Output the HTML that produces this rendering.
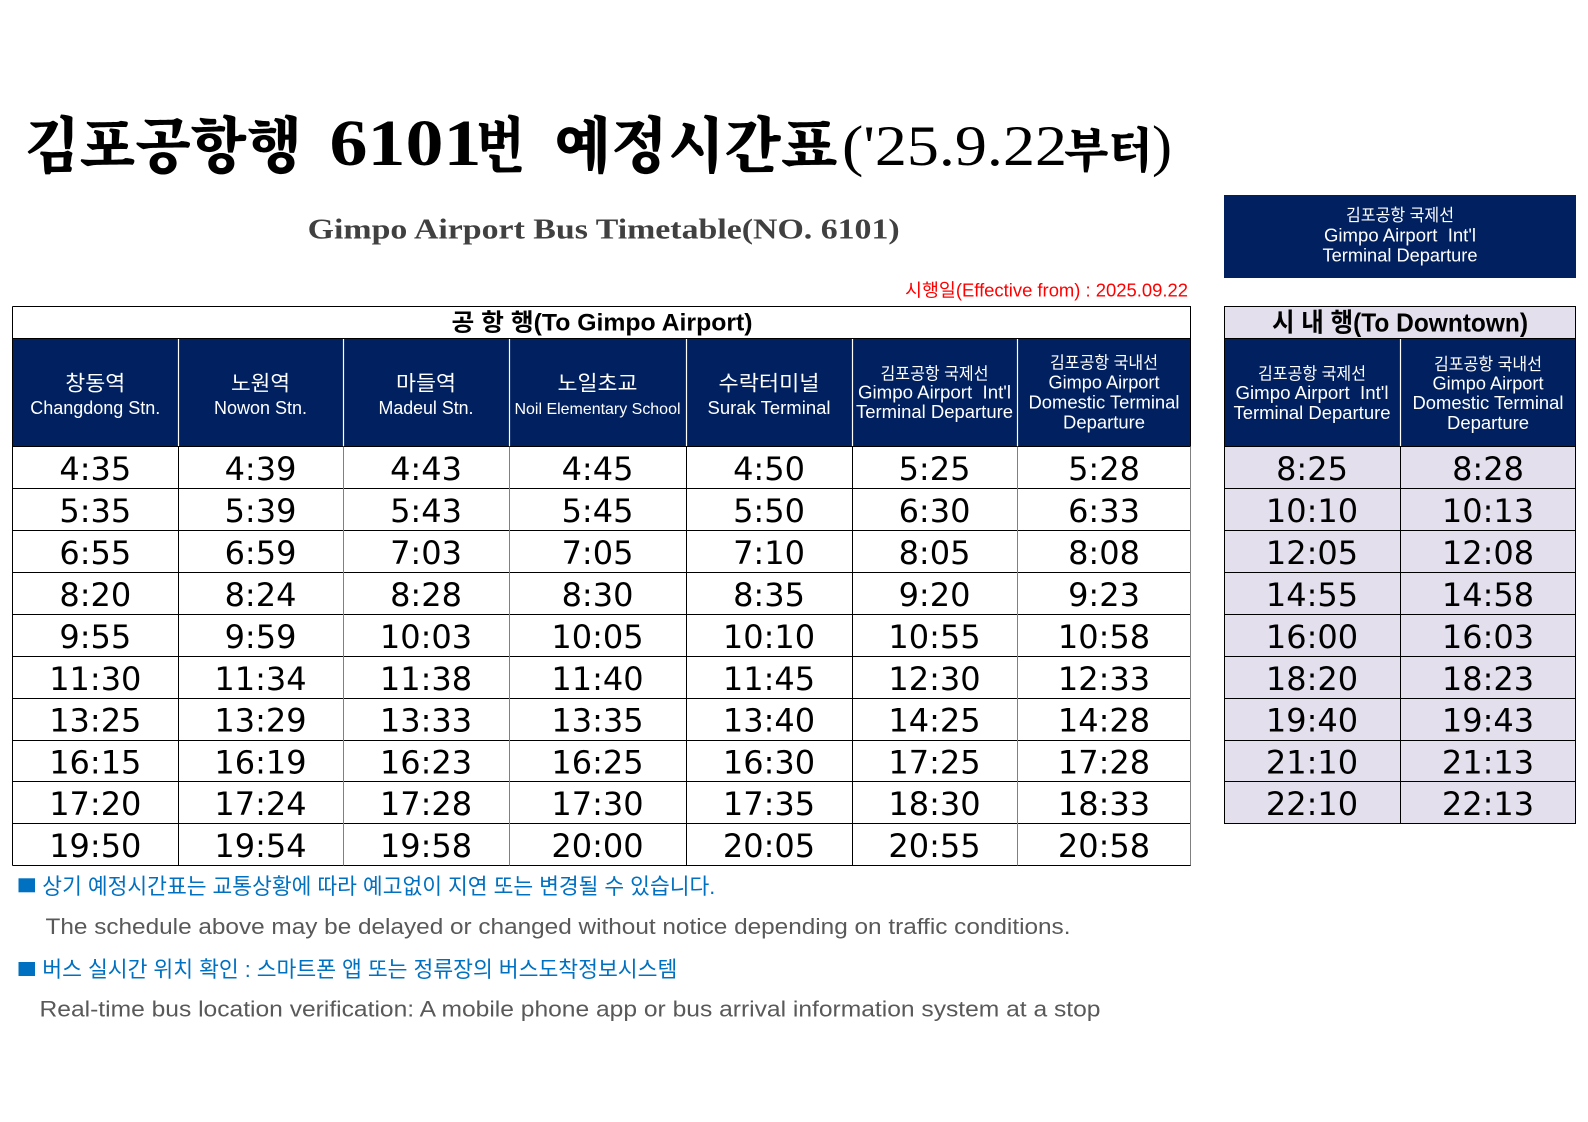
<!DOCTYPE html>
<html lang="ko">
<head>
<meta charset="utf-8">
<style>
html,body{margin:0;padding:0;background:#fff;}
svg{display:block;}
text{white-space:pre;}
.ser{font-family:"Noto Serif CJK KR","Noto Serif CJK SC","Noto Sans CJK KR",serif;font-weight:900;}
.lser{font-family:"Liberation Serif",serif;}
.k{font-family:"Liberation Sans","Noto Sans CJK KR",sans-serif;}
.t{font-family:"DejaVu Sans","Liberation Sans",sans-serif;font-size:32px;text-anchor:middle;fill:#000;}
.hw{fill:#fff;text-anchor:middle;}
.kr21{font-size:21px;}
.en18{font-size:18px;}
.kr17{font-size:17px;}
</style>
</head>
<body>
<svg width="1588" height="1122" viewBox="0 0 1588 1122" xmlns="http://www.w3.org/2000/svg">
<rect x="0" y="0" width="1588" height="1122" fill="#fff"/>

<!-- Main title -->
<text class="ser" x="24" y="167" font-size="61" textLength="278" lengthAdjust="spacingAndGlyphs">김포공항행</text>
<text class="lser" x="329.5" y="165" font-size="66" font-weight="bold" textLength="152" lengthAdjust="spacingAndGlyphs">6101</text>
<text class="ser" x="476" y="167" font-size="61" textLength="49" lengthAdjust="spacingAndGlyphs">번</text>
<text class="ser" x="554.5" y="167" font-size="61" textLength="283" lengthAdjust="spacingAndGlyphs">예정시간표</text>
<text class="lser" x="842" y="165" font-size="57" textLength="225" lengthAdjust="spacingAndGlyphs">('25.9.22</text>
<text class="ser" x="1064" y="167" font-size="48" textLength="89" lengthAdjust="spacingAndGlyphs">부터</text>
<text class="lser" x="1152" y="165" font-size="57" textLength="20" lengthAdjust="spacingAndGlyphs">)</text>

<!-- Subtitle -->
<text class="lser" x="307.7" y="238.3" font-size="28" font-weight="bold" fill="#404040" textLength="592" lengthAdjust="spacingAndGlyphs">Gimpo Airport Bus Timetable(NO. 6101)</text>

<!-- Effective date -->
<text class="k" x="905" y="296.5" font-size="18" fill="#ff0000" textLength="283" lengthAdjust="spacingAndGlyphs">시행일(Effective from) : 2025.09.22</text>

<!-- Right top box -->
<rect x="1224" y="195" width="352" height="83" fill="#002060"/>
<text class="k hw kr17" x="1400" y="221" textLength="108" lengthAdjust="spacingAndGlyphs">김포공항 국제선</text>
<text class="k hw en18" x="1400" y="241.7" textLength="152" lengthAdjust="spacingAndGlyphs">Gimpo Airport  Int'l</text>
<text class="k hw en18" x="1400" y="261.7" textLength="155" lengthAdjust="spacingAndGlyphs">Terminal Departure</text>

<!-- ================= LEFT TABLE ================= -->
<rect x="12.5" y="338.5" width="1178.5" height="108" fill="#002060"/>
<g stroke="#fff" stroke-width="1.2">
<line x1="178.5" y1="338.5" x2="178.5" y2="446.5"/>
<line x1="343.5" y1="338.5" x2="343.5" y2="446.5"/>
<line x1="509.5" y1="338.5" x2="509.5" y2="446.5"/>
<line x1="686.5" y1="338.5" x2="686.5" y2="446.5"/>
<line x1="852.5" y1="338.5" x2="852.5" y2="446.5"/>
<line x1="1017.5" y1="338.5" x2="1017.5" y2="446.5"/>
</g>
<g stroke="#000" stroke-width="1">
<line x1="12.5" y1="306.5" x2="1191" y2="306.5"/>
<line x1="12.5" y1="338.5" x2="1191" y2="338.5"/>
<line x1="12.5" y1="446.5" x2="1191" y2="446.5"/>
<line x1="12.5" y1="488.5" x2="1191" y2="488.5"/>
<line x1="12.5" y1="530.5" x2="1191" y2="530.5"/>
<line x1="12.5" y1="572.5" x2="1191" y2="572.5"/>
<line x1="12.5" y1="614.5" x2="1191" y2="614.5"/>
<line x1="12.5" y1="656.5" x2="1191" y2="656.5"/>
<line x1="12.5" y1="698.5" x2="1191" y2="698.5"/>
<line x1="12.5" y1="740.5" x2="1191" y2="740.5"/>
<line x1="12.5" y1="781.5" x2="1191" y2="781.5"/>
<line x1="12.5" y1="823.5" x2="1191" y2="823.5"/>
<line x1="12.5" y1="865.5" x2="1191" y2="865.5"/>
<line x1="12.5" y1="306.5" x2="12.5" y2="865.5"/>
<line x1="1190.5" y1="306.5" x2="1190.5" y2="446.5"/>
<line x1="178.5" y1="446.5" x2="178.5" y2="865.5"/>
<line x1="686.5" y1="446.5" x2="686.5" y2="865.5"/>
<line x1="852.5" y1="446.5" x2="852.5" y2="865.5"/>
</g>
<g stroke="#808080" stroke-width="1">
<line x1="343.5" y1="446.5" x2="343.5" y2="865.5"/>
<line x1="509.5" y1="446.5" x2="509.5" y2="865.5"/>
<line x1="1017.5" y1="446.5" x2="1017.5" y2="865.5"/>
<line x1="1190.5" y1="446.5" x2="1190.5" y2="865.5"/>
</g>

<text class="k" x="602" y="330.5" font-size="24" font-weight="bold" text-anchor="middle" textLength="301" lengthAdjust="spacingAndGlyphs">공 항 행(To Gimpo Airport)</text>

<text class="k hw kr21" x="95.3" y="390.5" textLength="60" lengthAdjust="spacingAndGlyphs">창동역</text>
<text class="k hw en18" x="95.3" y="414" textLength="130" lengthAdjust="spacingAndGlyphs">Changdong Stn.</text>
<text class="k hw kr21" x="260.5" y="390.5" textLength="59" lengthAdjust="spacingAndGlyphs">노원역</text>
<text class="k hw en18" x="260.5" y="414" textLength="93" lengthAdjust="spacingAndGlyphs">Nowon Stn.</text>
<text class="k hw kr21" x="426" y="390.5" textLength="60" lengthAdjust="spacingAndGlyphs">마들역</text>
<text class="k hw en18" x="426" y="414" textLength="95" lengthAdjust="spacingAndGlyphs">Madeul Stn.</text>
<text class="k hw kr21" x="597.5" y="390.5" textLength="80" lengthAdjust="spacingAndGlyphs">노일초교</text>
<text class="k hw" x="597.5" y="414" font-size="16" textLength="166" lengthAdjust="spacingAndGlyphs">Noil Elementary School</text>
<text class="k hw kr21" x="769" y="390.5" textLength="101" lengthAdjust="spacingAndGlyphs">수락터미널</text>
<text class="k hw en18" x="769" y="414" textLength="123" lengthAdjust="spacingAndGlyphs">Surak Terminal</text>

<text class="k hw kr17" x="934.5" y="379.5" textLength="108" lengthAdjust="spacingAndGlyphs">김포공항 국제선</text>
<text class="k hw en18" x="934.5" y="398.5" textLength="153" lengthAdjust="spacingAndGlyphs">Gimpo Airport  Int'l</text>
<text class="k hw en18" x="934.5" y="418" textLength="157" lengthAdjust="spacingAndGlyphs">Terminal Departure</text>

<text class="k hw kr17" x="1104" y="368.6" textLength="108" lengthAdjust="spacingAndGlyphs">김포공항 국내선</text>
<text class="k hw en18" x="1104" y="388.5" textLength="111" lengthAdjust="spacingAndGlyphs">Gimpo Airport</text>
<text class="k hw en18" x="1104" y="408.5" textLength="151" lengthAdjust="spacingAndGlyphs">Domestic Terminal</text>
<text class="k hw en18" x="1104" y="428.5" textLength="82" lengthAdjust="spacingAndGlyphs">Departure</text>

<g>
<text class="t" x="95.3" y="480">4:35</text><text class="t" x="260.5" y="480">4:39</text><text class="t" x="426" y="480">4:43</text><text class="t" x="597.5" y="480">4:45</text><text class="t" x="769" y="480">4:50</text><text class="t" x="934.5" y="480">5:25</text><text class="t" x="1104" y="480">5:28</text>
<text class="t" x="95.3" y="522">5:35</text><text class="t" x="260.5" y="522">5:39</text><text class="t" x="426" y="522">5:43</text><text class="t" x="597.5" y="522">5:45</text><text class="t" x="769" y="522">5:50</text><text class="t" x="934.5" y="522">6:30</text><text class="t" x="1104" y="522">6:33</text>
<text class="t" x="95.3" y="564">6:55</text><text class="t" x="260.5" y="564">6:59</text><text class="t" x="426" y="564">7:03</text><text class="t" x="597.5" y="564">7:05</text><text class="t" x="769" y="564">7:10</text><text class="t" x="934.5" y="564">8:05</text><text class="t" x="1104" y="564">8:08</text>
<text class="t" x="95.3" y="606">8:20</text><text class="t" x="260.5" y="606">8:24</text><text class="t" x="426" y="606">8:28</text><text class="t" x="597.5" y="606">8:30</text><text class="t" x="769" y="606">8:35</text><text class="t" x="934.5" y="606">9:20</text><text class="t" x="1104" y="606">9:23</text>
<text class="t" x="95.3" y="648">9:55</text><text class="t" x="260.5" y="648">9:59</text><text class="t" x="426" y="648">10:03</text><text class="t" x="597.5" y="648">10:05</text><text class="t" x="769" y="648">10:10</text><text class="t" x="934.5" y="648">10:55</text><text class="t" x="1104" y="648">10:58</text>
<text class="t" x="95.3" y="690">11:30</text><text class="t" x="260.5" y="690">11:34</text><text class="t" x="426" y="690">11:38</text><text class="t" x="597.5" y="690">11:40</text><text class="t" x="769" y="690">11:45</text><text class="t" x="934.5" y="690">12:30</text><text class="t" x="1104" y="690">12:33</text>
<text class="t" x="95.3" y="731.5">13:25</text><text class="t" x="260.5" y="731.5">13:29</text><text class="t" x="426" y="731.5">13:33</text><text class="t" x="597.5" y="731.5">13:35</text><text class="t" x="769" y="731.5">13:40</text><text class="t" x="934.5" y="731.5">14:25</text><text class="t" x="1104" y="731.5">14:28</text>
<text class="t" x="95.3" y="773.3">16:15</text><text class="t" x="260.5" y="773.3">16:19</text><text class="t" x="426" y="773.3">16:23</text><text class="t" x="597.5" y="773.3">16:25</text><text class="t" x="769" y="773.3">16:30</text><text class="t" x="934.5" y="773.3">17:25</text><text class="t" x="1104" y="773.3">17:28</text>
<text class="t" x="95.3" y="815.2">17:20</text><text class="t" x="260.5" y="815.2">17:24</text><text class="t" x="426" y="815.2">17:28</text><text class="t" x="597.5" y="815.2">17:30</text><text class="t" x="769" y="815.2">17:35</text><text class="t" x="934.5" y="815.2">18:30</text><text class="t" x="1104" y="815.2">18:33</text>
<text class="t" x="95.3" y="857">19:50</text><text class="t" x="260.5" y="857">19:54</text><text class="t" x="426" y="857">19:58</text><text class="t" x="597.5" y="857">20:00</text><text class="t" x="769" y="857">20:05</text><text class="t" x="934.5" y="857">20:55</text><text class="t" x="1104" y="857">20:58</text>
</g>

<!-- ================= RIGHT TABLE ================= -->
<rect x="1224.5" y="306.5" width="351.5" height="32" fill="#e4dfec"/>
<rect x="1224.5" y="338.5" width="351.5" height="108" fill="#002060"/>
<rect x="1224.5" y="446.5" width="351.5" height="377" fill="#e4dfec"/>
<line x1="1400.5" y1="338.5" x2="1400.5" y2="446.5" stroke="#fff" stroke-width="1.2"/>
<g stroke="#000" stroke-width="1">
<line x1="1224" y1="306.5" x2="1576" y2="306.5"/>
<line x1="1224" y1="338.5" x2="1576" y2="338.5"/>
<line x1="1224" y1="446.5" x2="1576" y2="446.5"/>
<line x1="1224" y1="488.5" x2="1576" y2="488.5"/>
<line x1="1224" y1="530.5" x2="1576" y2="530.5"/>
<line x1="1224" y1="572.5" x2="1576" y2="572.5"/>
<line x1="1224" y1="614.5" x2="1576" y2="614.5"/>
<line x1="1224" y1="656.5" x2="1576" y2="656.5"/>
<line x1="1224" y1="698.5" x2="1576" y2="698.5"/>
<line x1="1224" y1="740.5" x2="1576" y2="740.5"/>
<line x1="1224" y1="781.5" x2="1576" y2="781.5"/>
<line x1="1224" y1="823.5" x2="1576" y2="823.5"/>
<line x1="1224.5" y1="306.5" x2="1224.5" y2="823.5"/>
<line x1="1575.5" y1="306.5" x2="1575.5" y2="823.5"/>
<line x1="1400.5" y1="446.5" x2="1400.5" y2="823.5"/>
</g>

<text class="k" x="1400" y="331.5" font-size="26" font-weight="bold" text-anchor="middle" textLength="256" lengthAdjust="spacingAndGlyphs">시 내 행(To Downtown)</text>

<text class="k hw kr17" x="1312" y="379.5" textLength="108" lengthAdjust="spacingAndGlyphs">김포공항 국제선</text>
<text class="k hw en18" x="1312" y="399" textLength="153" lengthAdjust="spacingAndGlyphs">Gimpo Airport  Int'l</text>
<text class="k hw en18" x="1312" y="418.8" textLength="157" lengthAdjust="spacingAndGlyphs">Terminal Departure</text>

<text class="k hw kr17" x="1488" y="370" textLength="108" lengthAdjust="spacingAndGlyphs">김포공항 국내선</text>
<text class="k hw en18" x="1488" y="389.5" textLength="111" lengthAdjust="spacingAndGlyphs">Gimpo Airport</text>
<text class="k hw en18" x="1488" y="409" textLength="151" lengthAdjust="spacingAndGlyphs">Domestic Terminal</text>
<text class="k hw en18" x="1488" y="429" textLength="82" lengthAdjust="spacingAndGlyphs">Departure</text>

<g>
<text class="t" x="1312" y="480">8:25</text><text class="t" x="1488" y="480">8:28</text>
<text class="t" x="1312" y="522">10:10</text><text class="t" x="1488" y="522">10:13</text>
<text class="t" x="1312" y="564">12:05</text><text class="t" x="1488" y="564">12:08</text>
<text class="t" x="1312" y="606">14:55</text><text class="t" x="1488" y="606">14:58</text>
<text class="t" x="1312" y="648">16:00</text><text class="t" x="1488" y="648">16:03</text>
<text class="t" x="1312" y="690">18:20</text><text class="t" x="1488" y="690">18:23</text>
<text class="t" x="1312" y="731.5">19:40</text><text class="t" x="1488" y="731.5">19:43</text>
<text class="t" x="1312" y="773.3">21:10</text><text class="t" x="1488" y="773.3">21:13</text>
<text class="t" x="1312" y="815.2">22:10</text><text class="t" x="1488" y="815.2">22:13</text>
</g>

<!-- ================= NOTES ================= -->
<rect x="18.5" y="878.3" width="16.5" height="14" fill="#0070c0"/>
<text class="k" x="42.3" y="894" font-size="22" fill="#0070c0" textLength="673" lengthAdjust="spacingAndGlyphs">상기 예정시간표는 교통상황에 따라 예고없이 지연 또는 변경될 수 있습니다.</text>
<text class="k" x="45.5" y="934" font-size="22.5" fill="#595959" textLength="1025" lengthAdjust="spacingAndGlyphs">The schedule above may be delayed or changed without notice depending on traffic conditions.</text>
<rect x="18.5" y="962" width="16.5" height="14" fill="#0070c0"/>
<text class="k" x="42.3" y="977" font-size="22" fill="#0070c0" textLength="635" lengthAdjust="spacingAndGlyphs">버스 실시간 위치 확인 : 스마트폰 앱 또는 정류장의 버스도착정보시스템</text>
<text class="k" x="39.5" y="1016.7" font-size="22.5" fill="#595959" textLength="1061" lengthAdjust="spacingAndGlyphs">Real-time bus location verification: A mobile phone app or bus arrival information system at a stop</text>
</svg>
</body>
</html>
